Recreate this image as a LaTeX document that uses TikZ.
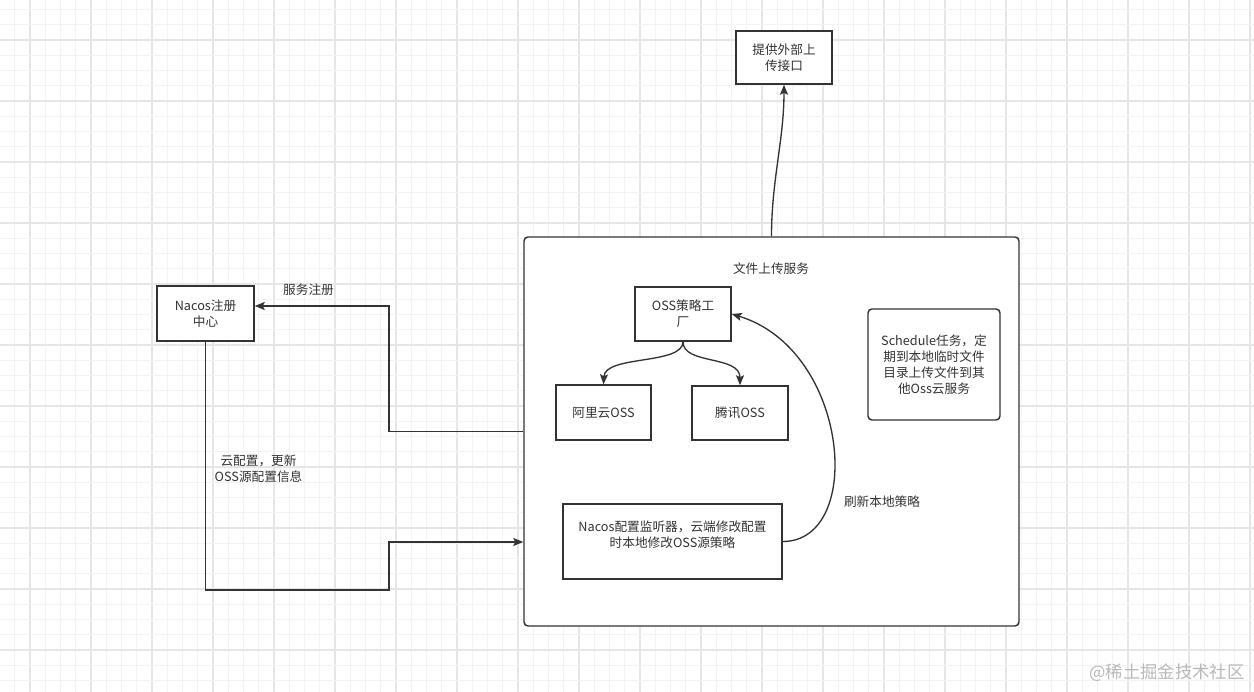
\documentclass[tikz,border=0pt]{standalone}
\usepackage{fontspec}
\setmainfont{Noto Sans CJK SC}
\usetikzlibrary{arrows.meta,calc}
\definecolor{ln}{HTML}{333333}
\definecolor{txc}{HTML}{333333}
\definecolor{gmin}{HTML}{F3F3F3}
\definecolor{gmaj}{HTML}{E6E6E6}
\begin{document}
\begin{tikzpicture}[x=0.75pt,y=-0.75pt,
  box/.style={draw=ln,line width=1.1pt,fill=white,inner sep=0pt,align=center,text=txc,
    font=\fontsize{9.5pt}{12pt}\selectfont},
  lbl/.style={inner sep=0pt,align=center,text=txc,font=\fontsize{9.5pt}{12pt}\selectfont},
  conn/.style={draw=ln,line width=1pt},
  arr/.style={conn,-{Stealth[length=7.5pt,width=6pt,inset=1.5pt]}}]
\fill[white] (0,0) rectangle (1254,692);
\useasboundingbox (0,0) rectangle (1254,692);
% grid
\foreach \k in {0,...,83}{
  \pgfmathtruncatemacro{\m}{mod(\k,4)}
  \pgfmathsetmacro{\gx}{-0.5+15.25*\k}
  \ifnum\m=2 \draw[gmaj,line width=0.8pt] (\gx,0) -- (\gx,692);
  \else \draw[gmin,line width=0.8pt] (\gx,0) -- (\gx,692); \fi
}
\foreach \k in {0,...,45}{
  \pgfmathtruncatemacro{\m}{mod(\k,4)}
  \pgfmathsetmacro{\gy}{9.5+15.25*\k}
  \ifnum\m=2 \draw[gmaj,line width=0.8pt] (0,\gy) -- (1254,\gy);
  \else \draw[gmin,line width=0.8pt] (0,\gy) -- (1254,\gy); \fi
}
% nodes
\node[box,rounded corners=3pt,minimum width=371.25pt,minimum height=291.75pt] (main) at (771.5,431.5) {};
\node[lbl] (title) at (771,269) {文件上传服务};
\node[box,minimum width=72pt,minimum height=39.75pt] (top) at (784,57.5) {提供外部上\\传接口};
\node[box,minimum width=72pt,minimum height=40.5pt] (oss) at (683,314) {OSS策略工\\厂};
\node[box,minimum width=71.25pt,minimum height=41.25pt] (ali) at (603.5,412.5) {阿里云OSS};
\node[box,minimum width=72pt,minimum height=40.5pt] (tx) at (740,413) {腾讯OSS};
\node[box,rounded corners=3pt,minimum width=99pt,minimum height=83.25pt] (sched) at (934,364.5) {Schedule任务，定\\期到本地临时文件\\目录上传文件到其\\他Oss云服务};
\node[box,minimum width=72.75pt,minimum height=41.25pt] (nacos) at (205.5,313.5) {Nacos注册\\中心};
\node[box,minimum width=164.25pt,minimum height=56.25pt] (lis) at (672.5,541.5) {};
\node[lbl] (listext) at (672.5,535) {Nacos配置监听器，云端修改配置\\时本地修改OSS源策略};
% labels
\node[lbl] (reg) at (308.5,290) {服务注册};
\node[lbl] (cfg) at (258.5,469) {云配置，更新\\OSS源配置信息};
\node[lbl] (refresh) at (882,502) {刷新本地策略};
\node[inner sep=0pt,text=gray!55,font=\fontsize{13pt}{15pt}\selectfont] (wm) at (1167,673) {@稀土掘金技术社区};
% connectors
\draw[arr] (main.north) .. controls (771.5,180) and (784,140) .. (top.south);
\draw[arr] (main.west) -- (389,431.5) -- (389,306) -- (nacos.east |- 389,306);
\draw[arr] (nacos.south) -- (205.5,590) -- (389,590) -- (389,542) -- (main.west |- 389,542);
\draw[arr] (lis.east) .. controls (865,541.5) and (850,350) .. (oss.east);
\draw[arr] (oss.south) .. controls (683,365) and (605,355) .. (ali.north);
\draw[arr] (oss.south) .. controls (683,365) and (740,355) .. (tx.north);
\end{tikzpicture}
\end{document}
